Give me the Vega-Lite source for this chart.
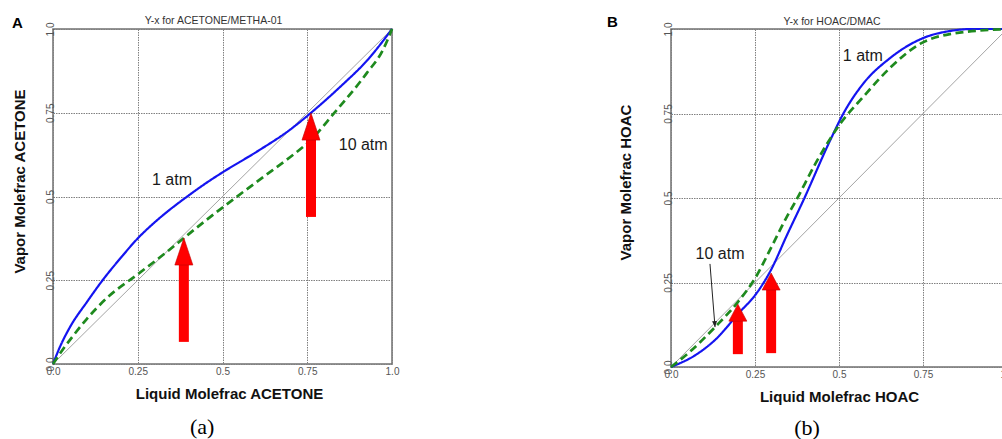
{
  "$schema": "https://vega.github.io/schema/vega-lite/v6.json",
  "background": "white",
  "autosize": {"type": "pad"},
  "padding": {"left": 11, "top": 14, "right": 0, "bottom": 0},
  "bounds": "flush",
  "spacing": 279,
  "config": {
    "font": "Liberation Sans",
    "view": {"stroke": "#707070", "strokeWidth": 1.5},
    "axis": {
      "domain": false,
      "ticks": false,
      "grid": true,
      "gridColor": "#808080",
      "gridDash": [1.5, 1],
      "gridWidth": 1,
      "labelColor": "#555555",
      "labelFont": "Liberation Sans",
      "labelFontSize": 10,
      "labelFlush": false,
      "labelOverlap": false,
      "titleFont": "Liberation Sans",
      "titleFontSize": 15,
      "titleFontWeight": "bold",
      "titleColor": "#111111"
    },
    "axisX": {"labelPadding": 2, "titlePadding": 10},
    "axisY": {"labelAngle": 270, "labelAlign": "center", "labelBaseline": "alphabetic", "labelPadding": 0},
    "title": {"fontSize": 10.5, "fontWeight": "normal", "color": "#333333", "anchor": "middle"},
    "legend": {"disable": true}
  },
  "datasets": {
    "diagonal": [{"x": 0, "y": 0}, {"x": 1, "y": 1}],
    "acetone": [
      {"series": "1 atm", "x": 0, "y": 0},
      {"series": "1 atm", "x": 0.02, "y": 0.05},
      {"series": "1 atm", "x": 0.05, "y": 0.11},
      {"series": "1 atm", "x": 0.1, "y": 0.185},
      {"series": "1 atm", "x": 0.15, "y": 0.255},
      {"series": "1 atm", "x": 0.2, "y": 0.317},
      {"series": "1 atm", "x": 0.25, "y": 0.375},
      {"series": "1 atm", "x": 0.3, "y": 0.423},
      {"series": "1 atm", "x": 0.35, "y": 0.465},
      {"series": "1 atm", "x": 0.4, "y": 0.503},
      {"series": "1 atm", "x": 0.45, "y": 0.539},
      {"series": "1 atm", "x": 0.5, "y": 0.572},
      {"series": "1 atm", "x": 0.6, "y": 0.633},
      {"series": "1 atm", "x": 0.7, "y": 0.7},
      {"series": "1 atm", "x": 0.76, "y": 0.749},
      {"series": "1 atm", "x": 0.85, "y": 0.83},
      {"series": "1 atm", "x": 0.93, "y": 0.91},
      {"series": "1 atm", "x": 1, "y": 1},
      {"series": "10 atm", "x": 0, "y": 0},
      {"series": "10 atm", "x": 0.03, "y": 0.045},
      {"series": "10 atm", "x": 0.06, "y": 0.085},
      {"series": "10 atm", "x": 0.1, "y": 0.135},
      {"series": "10 atm", "x": 0.16, "y": 0.198},
      {"series": "10 atm", "x": 0.25, "y": 0.268},
      {"series": "10 atm", "x": 0.325, "y": 0.326},
      {"series": "10 atm", "x": 0.386, "y": 0.376},
      {"series": "10 atm", "x": 0.45, "y": 0.428},
      {"series": "10 atm", "x": 0.53, "y": 0.49},
      {"series": "10 atm", "x": 0.62, "y": 0.558},
      {"series": "10 atm", "x": 0.7, "y": 0.618},
      {"series": "10 atm", "x": 0.761, "y": 0.669},
      {"series": "10 atm", "x": 0.826, "y": 0.745},
      {"series": "10 atm", "x": 0.926, "y": 0.869},
      {"series": "10 atm", "x": 0.973, "y": 0.937},
      {"series": "10 atm", "x": 1, "y": 1}
    ],
    "hoac": [
      {"series": "1 atm", "x": 0, "y": 0},
      {"series": "1 atm", "x": 0.077, "y": 0.038},
      {"series": "1 atm", "x": 0.131, "y": 0.08},
      {"series": "1 atm", "x": 0.205, "y": 0.163},
      {"series": "1 atm", "x": 0.25, "y": 0.212},
      {"series": "1 atm", "x": 0.298, "y": 0.288},
      {"series": "1 atm", "x": 0.345, "y": 0.39},
      {"series": "1 atm", "x": 0.393, "y": 0.491},
      {"series": "1 atm", "x": 0.473, "y": 0.669},
      {"series": "1 atm", "x": 0.512, "y": 0.748},
      {"series": "1 atm", "x": 0.571, "y": 0.837},
      {"series": "1 atm", "x": 0.652, "y": 0.914},
      {"series": "1 atm", "x": 0.75, "y": 0.973},
      {"series": "1 atm", "x": 0.83, "y": 0.994},
      {"series": "1 atm", "x": 0.9, "y": 1.0},
      {"series": "1 atm", "x": 1, "y": 1.0},
      {"series": "10 atm", "x": 0, "y": 0},
      {"series": "10 atm", "x": 0.048, "y": 0.038},
      {"series": "10 atm", "x": 0.131, "y": 0.118},
      {"series": "10 atm", "x": 0.199, "y": 0.192},
      {"series": "10 atm", "x": 0.25, "y": 0.262},
      {"series": "10 atm", "x": 0.304, "y": 0.365},
      {"series": "10 atm", "x": 0.345, "y": 0.445},
      {"series": "10 atm", "x": 0.369, "y": 0.487},
      {"series": "10 atm", "x": 0.434, "y": 0.609},
      {"series": "10 atm", "x": 0.503, "y": 0.719},
      {"series": "10 atm", "x": 0.571, "y": 0.798},
      {"series": "10 atm", "x": 0.652, "y": 0.885},
      {"series": "10 atm", "x": 0.741, "y": 0.956},
      {"series": "10 atm", "x": 0.83, "y": 0.985},
      {"series": "10 atm", "x": 1, "y": 1.0}
    ],
    "acetone_arrows": [
      {"x": 0.386, "y": 0.066, "tip": 0.376},
      {"x": 0.761, "y": 0.439, "tip": 0.749}
    ],
    "hoac_arrows": [
      {"x": 0.199, "y": 0.038, "tip": 0.186},
      {"x": 0.298, "y": 0.041, "tip": 0.278}
    ],
    "acetone_labels": [
      {"label": "1 atm", "x": 0.351, "y": 0.534},
      {"label": "10 atm", "x": 0.915, "y": 0.639}
    ],
    "hoac_labels": [
      {"label": "1 atm", "x": 0.571, "y": 0.905},
      {"label": "10 atm", "x": 0.146, "y": 0.32}
    ],
    "hoac_pointer": [
      {"x": 0.116, "y": 0.305, "x2": 0.131, "y2": 0.118}
    ],
    "acetone_letter": [{"label": "A", "x": -0.105, "y": 1.003}],
    "hoac_letter": [{"label": "B", "x": -0.174, "y": 1.006}],
    "acetone_caption": [{"label": "(a)", "x": 0.44, "y": -0.209}],
    "hoac_caption": [{"label": "(b)", "x": 0.405, "y": -0.201}]
  },
  "hconcat": [
    {
      "width": 339,
      "height": 335,
      "title": {"text": "Y-x for ACETONE/METHA-01", "dx": -9, "offset": -11},
      "layer": [
        {
          "data": {"name": "diagonal"},
          "mark": {"type": "line", "color": "#9a9a9a", "strokeWidth": 0.9},
          "encoding": {
            "x": {"field": "x", "type": "quantitative", "scale": {"domain": [0, 1], "nice": false}, "axis": {"title": "Liquid Molefrac ACETONE", "titleX": 176, "values": [0, 0.25, 0.5, 0.75, 1], "labelExpr": "datum.value == 0 ? '0.0' : datum.value == 1 ? '1.0' : format(datum.value, '.2~f')"}},
            "y": {"field": "y", "type": "quantitative", "scale": {"domain": [0, 1], "nice": false}, "axis": {"title": "Vapor Molefrac ACETONE", "titlePadding": 18, "titleY": 152, "values": [0, 0.25, 0.5, 0.75, 1], "labelExpr": "datum.value == 0 ? '0.0' : datum.value == 1 ? '1.0' : format(datum.value, '.2~f')"}}
          }
        },
        {
          "data": {"name": "acetone"},
          "mark": {"type": "line", "interpolate": "monotone"},
          "encoding": {
            "x": {"field": "x", "type": "quantitative", "scale": {"domain": [0, 1]}},
            "y": {"field": "y", "type": "quantitative", "scale": {"domain": [0, 1]}},
            "color": {"field": "series", "type": "nominal", "scale": {"domain": ["1 atm", "10 atm"], "range": ["#1414f0", "#1e8a1e"]}},
            "strokeDash": {"field": "series", "type": "nominal", "scale": {"domain": ["1 atm", "10 atm"], "range": [[1, 0], [8, 4.5]]}},
            "strokeWidth": {"field": "series", "type": "nominal", "scale": {"domain": ["1 atm", "10 atm"], "range": [2.2, 2.7]}}
          }
        },
        {
          "data": {"name": "acetone_arrows"},
          "mark": {"type": "rule", "color": "#ff0000", "strokeWidth": 10, "strokeCap": "butt", "y2Offset": 26},
          "encoding": {
            "x": {"field": "x", "type": "quantitative", "scale": {"domain": [0, 1]}},
            "y": {"field": "y", "type": "quantitative", "scale": {"domain": [0, 1]}},
            "y2": {"field": "tip"}
          }
        },
        {
          "data": {"name": "acetone_arrows"},
          "mark": {"type": "point", "shape": "M0,0L-9,27L9,27Z", "size": 4, "filled": true, "fill": "#ff0000", "stroke": "#c00000", "strokeWidth": 0.6, "opacity": 1},
          "encoding": {
            "x": {"field": "x", "type": "quantitative", "scale": {"domain": [0, 1]}},
            "y": {"field": "tip", "type": "quantitative", "scale": {"domain": [0, 1]}}
          }
        },
        {
          "data": {"name": "acetone_labels"},
          "mark": {"type": "text", "fontSize": 16, "color": "#1a1a1a", "align": "center", "baseline": "alphabetic"},
          "encoding": {
            "x": {"field": "x", "type": "quantitative", "scale": {"domain": [0, 1]}},
            "y": {"field": "y", "type": "quantitative", "scale": {"domain": [0, 1]}},
            "text": {"field": "label"}
          }
        },
        {
          "data": {"name": "acetone_letter"},
          "mark": {"type": "text", "fontSize": 15, "fontWeight": "bold", "color": "#000000", "align": "center", "baseline": "alphabetic"},
          "encoding": {
            "x": {"field": "x", "type": "quantitative", "scale": {"domain": [0, 1]}},
            "y": {"field": "y", "type": "quantitative", "scale": {"domain": [0, 1]}},
            "text": {"field": "label"}
          }
        },
        {
          "data": {"name": "acetone_caption"},
          "mark": {"type": "text", "font": "Liberation Serif", "fontSize": 22, "color": "#000000", "align": "center", "baseline": "alphabetic"},
          "encoding": {
            "x": {"field": "x", "type": "quantitative", "scale": {"domain": [0, 1]}},
            "y": {"field": "y", "type": "quantitative", "scale": {"domain": [0, 1]}},
            "text": {"field": "label"}
          }
        }
      ]
    },
    {
      "width": 336,
      "height": 338,
      "title": {"text": "Y-x for HOAC/DMAC", "dx": -7, "offset": -13},
      "layer": [
        {
          "data": {"name": "diagonal"},
          "mark": {"type": "line", "color": "#9a9a9a", "strokeWidth": 0.9},
          "encoding": {
            "x": {"field": "x", "type": "quantitative", "scale": {"domain": [0, 1], "nice": false}, "axis": {"title": "Liquid Molefrac HOAC", "values": [0, 0.25, 0.5, 0.75, 1], "labelExpr": "datum.value == 0 ? '0.0' : datum.value == 1 ? '1.0' : format(datum.value, '.2~f')"}},
            "y": {"field": "y", "type": "quantitative", "scale": {"domain": [0, 1], "nice": false}, "axis": {"title": "Vapor Molefrac HOAC", "titlePadding": 30, "titleY": 153, "values": [0, 0.25, 0.5, 0.75, 1], "labelExpr": "datum.value == 0 ? '0.0' : datum.value == 1 ? '1.0' : format(datum.value, '.2~f')"}}
          }
        },
        {
          "data": {"name": "hoac"},
          "mark": {"type": "line", "interpolate": "monotone"},
          "encoding": {
            "x": {"field": "x", "type": "quantitative", "scale": {"domain": [0, 1]}},
            "y": {"field": "y", "type": "quantitative", "scale": {"domain": [0, 1]}},
            "color": {"field": "series", "type": "nominal", "scale": {"domain": ["1 atm", "10 atm"], "range": ["#1414f0", "#1e8a1e"]}},
            "strokeDash": {"field": "series", "type": "nominal", "scale": {"domain": ["1 atm", "10 atm"], "range": [[1, 0], [8, 4.5]]}},
            "strokeWidth": {"field": "series", "type": "nominal", "scale": {"domain": ["1 atm", "10 atm"], "range": [2.2, 2.7]}}
          }
        },
        {
          "data": {"name": "hoac_pointer"},
          "mark": {"type": "rule", "color": "#222222", "strokeWidth": 1},
          "encoding": {
            "x": {"field": "x", "type": "quantitative", "scale": {"domain": [0, 1]}},
            "y": {"field": "y", "type": "quantitative", "scale": {"domain": [0, 1]}},
            "x2": {"field": "x2"},
            "y2": {"field": "y2"}
          }
        },
        {
          "data": {"name": "hoac_pointer"},
          "mark": {"type": "point", "shape": "M0,0L-2.5,-6L2.5,-6Z", "size": 4, "filled": true, "fill": "#222222", "angle": 355.5, "opacity": 1},
          "encoding": {
            "x": {"field": "x2", "type": "quantitative", "scale": {"domain": [0, 1]}},
            "y": {"field": "y2", "type": "quantitative", "scale": {"domain": [0, 1]}}
          }
        },
        {
          "data": {"name": "hoac_arrows"},
          "mark": {"type": "rule", "color": "#ff0000", "strokeWidth": 10, "strokeCap": "butt", "y2Offset": 16},
          "encoding": {
            "x": {"field": "x", "type": "quantitative", "scale": {"domain": [0, 1]}},
            "y": {"field": "y", "type": "quantitative", "scale": {"domain": [0, 1]}},
            "y2": {"field": "tip"}
          }
        },
        {
          "data": {"name": "hoac_arrows"},
          "mark": {"type": "point", "shape": "M0,0L-9,17L9,17Z", "size": 4, "filled": true, "fill": "#ff0000", "stroke": "#c00000", "strokeWidth": 0.6, "opacity": 1},
          "encoding": {
            "x": {"field": "x", "type": "quantitative", "scale": {"domain": [0, 1]}},
            "y": {"field": "tip", "type": "quantitative", "scale": {"domain": [0, 1]}}
          }
        },
        {
          "data": {"name": "hoac_labels"},
          "mark": {"type": "text", "fontSize": 16, "color": "#1a1a1a", "align": "center", "baseline": "alphabetic"},
          "encoding": {
            "x": {"field": "x", "type": "quantitative", "scale": {"domain": [0, 1]}},
            "y": {"field": "y", "type": "quantitative", "scale": {"domain": [0, 1]}},
            "text": {"field": "label"}
          }
        },
        {
          "data": {"name": "hoac_letter"},
          "mark": {"type": "text", "fontSize": 15, "fontWeight": "bold", "color": "#000000", "align": "center", "baseline": "alphabetic"},
          "encoding": {
            "x": {"field": "x", "type": "quantitative", "scale": {"domain": [0, 1]}},
            "y": {"field": "y", "type": "quantitative", "scale": {"domain": [0, 1]}},
            "text": {"field": "label"}
          }
        },
        {
          "data": {"name": "hoac_caption"},
          "mark": {"type": "text", "font": "Liberation Serif", "fontSize": 22, "color": "#000000", "align": "center", "baseline": "alphabetic"},
          "encoding": {
            "x": {"field": "x", "type": "quantitative", "scale": {"domain": [0, 1]}},
            "y": {"field": "y", "type": "quantitative", "scale": {"domain": [0, 1]}},
            "text": {"field": "label"}
          }
        }
      ]
    }
  ]
}
